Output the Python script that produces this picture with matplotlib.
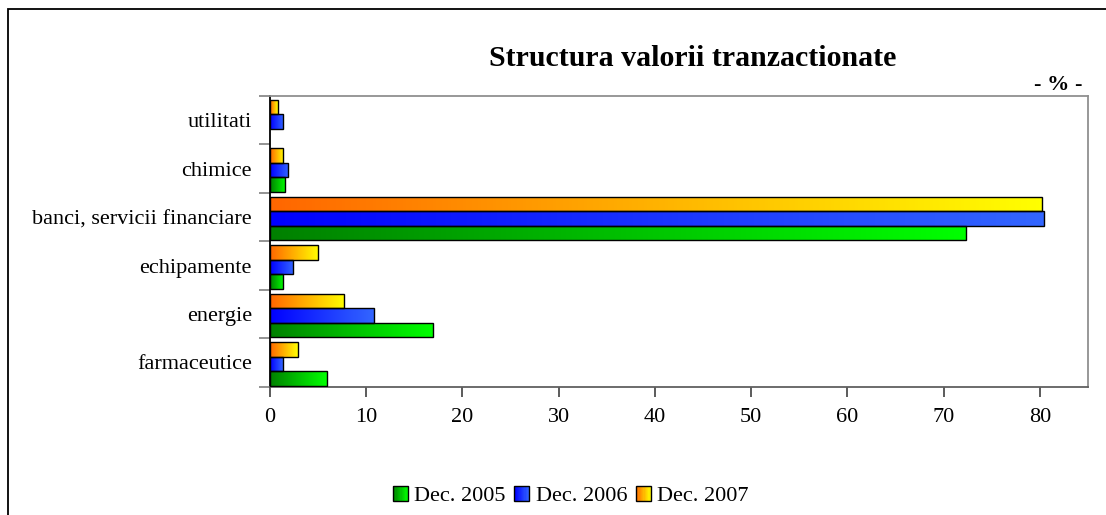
import numpy as np
import matplotlib.pyplot as plt
from matplotlib.patches import Rectangle
from matplotlib.colors import LinearSegmentedColormap
from matplotlib.legend_handler import HandlerBase

plt.rcParams['font.family'] = ['Liberation Serif', 'DejaVu Serif']

# data (percent)
categories = ['farmaceutice', 'energie', 'echipamente',
              'banci, servicii financiare', 'chimice', 'utilitati']
series = ['Dec. 2005', 'Dec. 2006', 'Dec. 2007']
dec2005 = [5.9, 16.9, 1.4, 72.3, 1.6, 0.0]
dec2006 = [1.3, 10.8, 2.4, 80.4, 1.9, 1.4]
dec2007 = [2.9, 7.7, 5.0, 80.2, 1.4, 0.8]
xticks = [0, 10, 20, 30, 40, 50, 60, 70, 80]

gradients = [
    ('#008000', '#00ff00'),
    ('#0000ff', '#3366ff'),
    ('#ff6600', '#ffff00'),
]
cmaps = [LinearSegmentedColormap.from_list('g%d' % i, g) for i, g in enumerate(gradients)]
grad = np.linspace(0, 1, 256).reshape(1, -1)

fig = plt.figure(figsize=(11.06, 5.15), dpi=100)
ax = fig.add_axes([270 / 1106, 128.3 / 515, 818 / 1106, 290.7 / 515])

# outer chart border (cut off at right and bottom)
fig.patches.append(Rectangle((8 / 1106, -0.1), 1.2, (515 - 9) / 515 + 0.1,
                             transform=fig.transFigure, fill=False,
                             edgecolor='black', linewidth=1.3))

y = np.arange(len(categories))
h = 0.30
offsets = [-0.33, -0.03, 0.27]
values = [dec2005, dec2006, dec2007]

for vals, off, cm in zip(values, offsets, cmaps):
    bars = ax.barh(y + off, vals, height=h, facecolor='none',
                   edgecolor='black', linewidth=1.0, zorder=3)
    for b in bars:
        if b.get_width() <= 0:
            b.set_visible(False)
            continue
        x0, y0 = b.get_x(), b.get_y()
        im = ax.imshow(grad, cmap=cm, aspect='auto', zorder=2,
                       extent=[x0, x0 + b.get_width(), y0, y0 + b.get_height()])
        im.set_clip_path(b)

fs = 16
ax.set_xlim(0, 85)
ax.set_ylim(-0.5, len(categories) - 0.5)
ax.set_xticks(xticks)
ax.set_xticklabels([str(t) for t in xticks], fontsize=fs)
ax.set_yticks(y)
ax.set_yticklabels(categories, fontsize=fs)
ax.tick_params(axis='y', length=0, pad=13)
ax.set_yticks(np.arange(len(categories) + 1) - 0.5, minor=True)
ax.tick_params(axis='y', which='minor', length=8, color='#808080', width=1.2)
ax.tick_params(axis='x', length=7, color='#404040', width=1.2, pad=8)

for s in ['top', 'right', 'bottom']:
    ax.spines[s].set_color('#909090')
    ax.spines[s].set_linewidth(1.3)
ax.spines['bottom'].set_color('#606060')
ax.spines['left'].set_color('black')
ax.spines['left'].set_linewidth(1.3)

fig.text(693 / 1106, 1 - 58 / 515, 'Structura valorii tranzactionate',
         ha='center', va='center', fontsize=21.5, fontweight='bold')
fig.text(1083 / 1106, 1 - 85 / 515, '- % -', ha='right', va='center',
         fontsize=16, fontweight='bold')


class GradHandle:
    def __init__(self, cmap):
        self.cmap = cmap


class GradientHandler(HandlerBase):
    def create_artists(self, legend, orig_handle, xdescent, ydescent,
                       width, height, fontsize, trans):
        cm = orig_handle.cmap
        side = height * 0.95
        x0 = width - side - xdescent
        y0 = -ydescent + (height - side) / 2
        arts = []
        n = 12
        for i in range(n):
            arts.append(Rectangle((x0 + side * i / n, y0), side / n + 0.3, side,
                                  facecolor=cm((i + 0.5) / n), edgecolor='none',
                                  transform=trans))
        arts.append(Rectangle((x0, y0), side, side, fill=False,
                              edgecolor='black', linewidth=1.0, transform=trans))
        return arts


handles = [GradHandle(c) for c in cmaps]
fig.legend(handles, series, handler_map={GradHandle: GradientHandler()},
           loc='center', bbox_to_anchor=(570 / 1106, 1 - 496 / 515), ncol=3,
           frameon=False, fontsize=fs, handlelength=0.75, handletextpad=0.3,
           columnspacing=0.3)

fig.savefig('out.png', dpi=100)
